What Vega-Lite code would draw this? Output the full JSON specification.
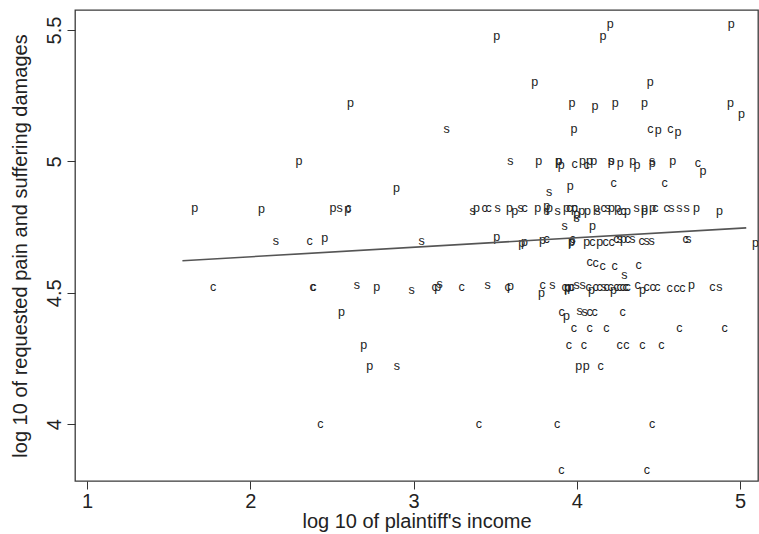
{
  "$schema": "https://vega.github.io/schema/vega-lite/v6.json",
  "width": 683,
  "height": 471,
  "autosize": {"type": "none"},
  "padding": {"left": 75, "top": 10, "right": 1, "bottom": 53},
  "background": "white",
  "config": {
    "view": {"stroke": "#3a3a3a", "strokeWidth": 1.3},
    "font": "Liberation Sans"
  },
  "layer": [
    {
      "data": {
        "values": [
          {"x": 3.51, "y": 5.477, "t": "p"},
          {"x": 4.16, "y": 5.477, "t": "p"},
          {"x": 4.205, "y": 5.523, "t": "p"},
          {"x": 4.946, "y": 5.523, "t": "p"},
          {"x": 3.742, "y": 5.301, "t": "p"},
          {"x": 4.45, "y": 5.301, "t": "p"},
          {"x": 3.97, "y": 5.222, "t": "p"},
          {"x": 4.111, "y": 5.21, "t": "p"},
          {"x": 4.236, "y": 5.222, "t": "p"},
          {"x": 4.415, "y": 5.222, "t": "p"},
          {"x": 4.942, "y": 5.222, "t": "p"},
          {"x": 5.009, "y": 5.18, "t": "p"},
          {"x": 2.613, "y": 5.222, "t": "p"},
          {"x": 3.203, "y": 5.125, "t": "s"},
          {"x": 3.982, "y": 5.125, "t": "p"},
          {"x": 4.45, "y": 5.125, "t": "c"},
          {"x": 4.499, "y": 5.12, "t": "p"},
          {"x": 4.573, "y": 5.125, "t": "c"},
          {"x": 4.619, "y": 5.11, "t": "p"},
          {"x": 2.298, "y": 5.0, "t": "p"},
          {"x": 3.593, "y": 5.0, "t": "s"},
          {"x": 3.766, "y": 5.0, "t": "p"},
          {"x": 3.888, "y": 5.0, "t": "p"},
          {"x": 3.89, "y": 5.0, "t": "p"},
          {"x": 3.905, "y": 4.985, "t": "p"},
          {"x": 3.987, "y": 4.99, "t": "c"},
          {"x": 4.034, "y": 5.0, "t": "p"},
          {"x": 4.06, "y": 4.985, "t": "c"},
          {"x": 4.078, "y": 5.0, "t": "p"},
          {"x": 4.103, "y": 5.0, "t": "p"},
          {"x": 4.211, "y": 5.0, "t": "p"},
          {"x": 4.211, "y": 5.0, "t": "s"},
          {"x": 4.266, "y": 4.995, "t": "p"},
          {"x": 4.343, "y": 5.0, "t": "p"},
          {"x": 4.368, "y": 4.985, "t": "p"},
          {"x": 4.462, "y": 4.995, "t": "p"},
          {"x": 4.462, "y": 5.0, "t": "s"},
          {"x": 4.588, "y": 5.0, "t": "p"},
          {"x": 4.742, "y": 4.995, "t": "c"},
          {"x": 4.773, "y": 4.962, "t": "p"},
          {"x": 4.225, "y": 4.918, "t": "c"},
          {"x": 4.538, "y": 4.918, "t": "c"},
          {"x": 2.895, "y": 4.9, "t": "p"},
          {"x": 3.83, "y": 4.884, "t": "s"},
          {"x": 3.96, "y": 4.905, "t": "p"},
          {"x": 1.66, "y": 4.824, "t": "p"},
          {"x": 2.068, "y": 4.82, "t": "p"},
          {"x": 2.506, "y": 4.824, "t": "p"},
          {"x": 2.547, "y": 4.824, "t": "s"},
          {"x": 2.596, "y": 4.82, "t": "p"},
          {"x": 2.6, "y": 4.824, "t": "c"},
          {"x": 3.362, "y": 4.81, "t": "s"},
          {"x": 3.386, "y": 4.824, "t": "p"},
          {"x": 3.435, "y": 4.824, "t": "c"},
          {"x": 3.46, "y": 4.824, "t": "c"},
          {"x": 3.515, "y": 4.824, "t": "s"},
          {"x": 3.588, "y": 4.824, "t": "p"},
          {"x": 3.619, "y": 4.81, "t": "p"},
          {"x": 3.656, "y": 4.824, "t": "s"},
          {"x": 3.68, "y": 4.824, "t": "c"},
          {"x": 3.76, "y": 4.824, "t": "p"},
          {"x": 3.815, "y": 4.81, "t": "s"},
          {"x": 3.815, "y": 4.83, "t": "p"},
          {"x": 3.833, "y": 4.824, "t": "p"},
          {"x": 3.882, "y": 4.81, "t": "s"},
          {"x": 3.937, "y": 4.824, "t": "p"},
          {"x": 3.955, "y": 4.824, "t": "c"},
          {"x": 3.986, "y": 4.824, "t": "c"},
          {"x": 3.986, "y": 4.824, "t": "p"},
          {"x": 3.999, "y": 4.8, "t": "p"},
          {"x": 4.03, "y": 4.81, "t": "p"},
          {"x": 4.066, "y": 4.81, "t": "p"},
          {"x": 4.121, "y": 4.824, "t": "p"},
          {"x": 4.127, "y": 4.81, "t": "s"},
          {"x": 4.164, "y": 4.824, "t": "c"},
          {"x": 4.189, "y": 4.824, "t": "s"},
          {"x": 4.213, "y": 4.824, "t": "p"},
          {"x": 4.25, "y": 4.824, "t": "p"},
          {"x": 4.262, "y": 4.81, "t": "c"},
          {"x": 4.286, "y": 4.81, "t": "c"},
          {"x": 4.311, "y": 4.81, "t": "p"},
          {"x": 4.366, "y": 4.824, "t": "s"},
          {"x": 4.415, "y": 4.824, "t": "p"},
          {"x": 4.415, "y": 4.81, "t": "p"},
          {"x": 4.464, "y": 4.824, "t": "p"},
          {"x": 4.482, "y": 4.824, "t": "c"},
          {"x": 4.55, "y": 4.824, "t": "c"},
          {"x": 4.58, "y": 4.824, "t": "s"},
          {"x": 4.629, "y": 4.824, "t": "s"},
          {"x": 4.672, "y": 4.824, "t": "s"},
          {"x": 4.733, "y": 4.824, "t": "p"},
          {"x": 4.874, "y": 4.81, "t": "p"},
          {"x": 3.925, "y": 4.753, "t": "s"},
          {"x": 3.999, "y": 4.785, "t": "s"},
          {"x": 4.096, "y": 4.755, "t": "p"},
          {"x": 2.156, "y": 4.699, "t": "s"},
          {"x": 2.364, "y": 4.699, "t": "c"},
          {"x": 2.456, "y": 4.71, "t": "p"},
          {"x": 3.05, "y": 4.699, "t": "s"},
          {"x": 3.509, "y": 4.712, "t": "p"},
          {"x": 3.662, "y": 4.69, "t": "p"},
          {"x": 3.68, "y": 4.695, "t": "p"},
          {"x": 3.79, "y": 4.7, "t": "p"},
          {"x": 3.815, "y": 4.705, "t": "c"},
          {"x": 3.968, "y": 4.695, "t": "p"},
          {"x": 3.97, "y": 4.699, "t": "p"},
          {"x": 3.975, "y": 4.703, "t": "c"},
          {"x": 4.06, "y": 4.695, "t": "p"},
          {"x": 4.096, "y": 4.695, "t": "c"},
          {"x": 4.14, "y": 4.695, "t": "p"},
          {"x": 4.176, "y": 4.695, "t": "c"},
          {"x": 4.213, "y": 4.695, "t": "c"},
          {"x": 4.243, "y": 4.705, "t": "c"},
          {"x": 4.262, "y": 4.705, "t": "s"},
          {"x": 4.286, "y": 4.705, "t": "p"},
          {"x": 4.311, "y": 4.705, "t": "c"},
          {"x": 4.341, "y": 4.705, "t": "s"},
          {"x": 4.397, "y": 4.699, "t": "c"},
          {"x": 4.427, "y": 4.699, "t": "s"},
          {"x": 4.458, "y": 4.699, "t": "s"},
          {"x": 4.666, "y": 4.705, "t": "c"},
          {"x": 4.684, "y": 4.703, "t": "s"},
          {"x": 5.095, "y": 4.69, "t": "p"},
          {"x": 4.078, "y": 4.617, "t": "c"},
          {"x": 4.115, "y": 4.612, "t": "c"},
          {"x": 4.158, "y": 4.603, "t": "c"},
          {"x": 4.231, "y": 4.603, "t": "c"},
          {"x": 4.378, "y": 4.606, "t": "c"},
          {"x": 4.292, "y": 4.569, "t": "s"},
          {"x": 1.772, "y": 4.523, "t": "c"},
          {"x": 2.382, "y": 4.523, "t": "c"},
          {"x": 2.386, "y": 4.523, "t": "c"},
          {"x": 2.652, "y": 4.53, "t": "s"},
          {"x": 2.774, "y": 4.523, "t": "p"},
          {"x": 2.988, "y": 4.51, "t": "s"},
          {"x": 3.129, "y": 4.523, "t": "c"},
          {"x": 3.148, "y": 4.523, "t": "p"},
          {"x": 3.16, "y": 4.535, "t": "s"},
          {"x": 3.295, "y": 4.523, "t": "c"},
          {"x": 3.454, "y": 4.53, "t": "s"},
          {"x": 3.576, "y": 4.523, "t": "c"},
          {"x": 3.594, "y": 4.525, "t": "p"},
          {"x": 3.784, "y": 4.5, "t": "p"},
          {"x": 3.79, "y": 4.53, "t": "c"},
          {"x": 3.851, "y": 4.53, "t": "s"},
          {"x": 3.925, "y": 4.523, "t": "c"},
          {"x": 3.943, "y": 4.523, "t": "p"},
          {"x": 3.945, "y": 4.52, "t": "p"},
          {"x": 3.962, "y": 4.523, "t": "p"},
          {"x": 3.968, "y": 4.523, "t": "c"},
          {"x": 3.999, "y": 4.53, "t": "s"},
          {"x": 4.036, "y": 4.53, "t": "s"},
          {"x": 4.072, "y": 4.523, "t": "c"},
          {"x": 4.09, "y": 4.51, "t": "p"},
          {"x": 4.115, "y": 4.523, "t": "c"},
          {"x": 4.14, "y": 4.523, "t": "c"},
          {"x": 4.164, "y": 4.523, "t": "s"},
          {"x": 4.182, "y": 4.523, "t": "c"},
          {"x": 4.207, "y": 4.523, "t": "c"},
          {"x": 4.225, "y": 4.51, "t": "p"},
          {"x": 4.243, "y": 4.523, "t": "c"},
          {"x": 4.262, "y": 4.523, "t": "c"},
          {"x": 4.28, "y": 4.523, "t": "c"},
          {"x": 4.299, "y": 4.523, "t": "c"},
          {"x": 4.311, "y": 4.523, "t": "c"},
          {"x": 4.372, "y": 4.53, "t": "c"},
          {"x": 4.403, "y": 4.51, "t": "p"},
          {"x": 4.427, "y": 4.523, "t": "c"},
          {"x": 4.464, "y": 4.523, "t": "c"},
          {"x": 4.494, "y": 4.523, "t": "c"},
          {"x": 4.568, "y": 4.52, "t": "c"},
          {"x": 4.611, "y": 4.52, "t": "c"},
          {"x": 4.647, "y": 4.52, "t": "c"},
          {"x": 4.702, "y": 4.53, "t": "p"},
          {"x": 4.831, "y": 4.523, "t": "c"},
          {"x": 4.874, "y": 4.523, "t": "s"},
          {"x": 2.558, "y": 4.426, "t": "p"},
          {"x": 3.907, "y": 4.426, "t": "c"},
          {"x": 3.937, "y": 4.41, "t": "p"},
          {"x": 4.017, "y": 4.432, "t": "s"},
          {"x": 4.048, "y": 4.426, "t": "s"},
          {"x": 4.078, "y": 4.426, "t": "c"},
          {"x": 4.109, "y": 4.426, "t": "c"},
          {"x": 4.28, "y": 4.426, "t": "c"},
          {"x": 3.982, "y": 4.368, "t": "c"},
          {"x": 4.078, "y": 4.368, "t": "c"},
          {"x": 4.181, "y": 4.368, "t": "c"},
          {"x": 4.629, "y": 4.368, "t": "c"},
          {"x": 4.905, "y": 4.368, "t": "c"},
          {"x": 2.694, "y": 4.301, "t": "p"},
          {"x": 3.952, "y": 4.301, "t": "c"},
          {"x": 4.044, "y": 4.301, "t": "c"},
          {"x": 4.262, "y": 4.301, "t": "c"},
          {"x": 4.303, "y": 4.301, "t": "c"},
          {"x": 4.401, "y": 4.301, "t": "c"},
          {"x": 4.518, "y": 4.301, "t": "c"},
          {"x": 2.731, "y": 4.222, "t": "p"},
          {"x": 2.898, "y": 4.222, "t": "s"},
          {"x": 4.012, "y": 4.222, "t": "p"},
          {"x": 4.057, "y": 4.222, "t": "p"},
          {"x": 4.146, "y": 4.222, "t": "c"},
          {"x": 2.429, "y": 4.0, "t": "c"},
          {"x": 3.4, "y": 4.0, "t": "c"},
          {"x": 3.88, "y": 4.0, "t": "c"},
          {"x": 4.462, "y": 4.0, "t": "c"},
          {"x": 3.905, "y": 3.824, "t": "c"},
          {"x": 4.429, "y": 3.824, "t": "c"}
        ]
      },
      "mark": {"type": "text", "fontSize": 12.5, "font": "Liberation Sans", "fill": "#222222", "align": "center", "baseline": "middle", "clip": true},
      "encoding": {
        "x": {
          "field": "x", "type": "quantitative",
          "scale": {"domain": [0.926, 5.11], "nice": false, "zero": false},
          "axis": {
            "values": [1, 2, 3, 4, 5], "format": "~g", "grid": false, "domain": false,
            "tickSize": 8, "tickColor": "#333333", "tickWidth": 1,
            "labelFontSize": 20, "labelColor": "#222222", "labelPadding": 2, "labelFont": "Liberation Sans",
            "title": "log 10 of plaintiff's income", "titleFontSize": 20, "titleFontWeight": "normal",
            "titleColor": "#222222", "titlePadding": 0, "titleFont": "Liberation Sans"
          }
        },
        "y": {
          "field": "y", "type": "quantitative",
          "scale": {"domain": [3.784, 5.576], "nice": false, "zero": false},
          "axis": {
            "values": [4, 4.5, 5, 5.5], "format": "~g", "grid": false, "domain": false,
            "tickSize": 8, "tickColor": "#333333", "tickWidth": 1,
            "labelFontSize": 20, "labelColor": "#222222", "labelAngle": -90,
            "labelAlign": "center", "labelBaseline": "bottom", "labelPadding": 3, "labelFont": "Liberation Sans",
            "title": "log 10 of requested pain and suffering damages", "titleFontSize": 20, "titleFontWeight": "normal",
            "titleColor": "#222222", "titlePadding": 14, "titleFont": "Liberation Sans"
          }
        },
        "text": {"field": "t", "type": "nominal"}
      }
    },
    {
      "data": {"values": [{"x": 1.584, "y": 4.622}, {"x": 5.038, "y": 4.747}]},
      "mark": {"type": "line", "color": "#555555", "strokeWidth": 1.6},
      "encoding": {
        "x": {"field": "x", "type": "quantitative"},
        "y": {"field": "y", "type": "quantitative"}
      }
    }
  ]
}
